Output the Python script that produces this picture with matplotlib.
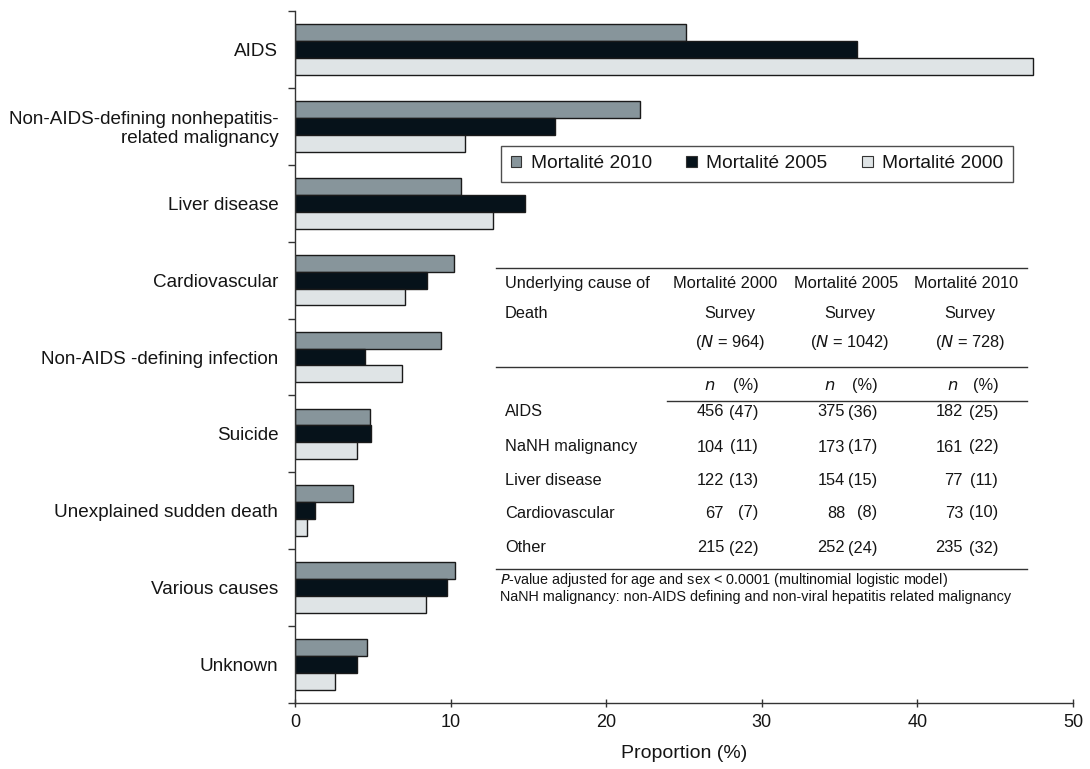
import numpy as np
import matplotlib.pyplot as plt
from matplotlib.patches import Patch

plt.rcParams['font.family'] = ['Liberation Sans', 'DejaVu Sans']

categories = ['AIDS', 'Non-AIDS-defining nonhepatitis-\nrelated malignancy', 'Liver disease',
              'Cardiovascular', 'Non-AIDS -defining infection', 'Suicide',
              'Unexplained sudden death', 'Various causes', 'Unknown']
mort_2010 = [25.1, 22.2, 10.7, 10.2, 9.4, 4.8, 3.7, 10.3, 4.6]
mort_2005 = [36.1, 16.7, 14.8, 8.5, 4.5, 4.9, 1.3, 9.8, 4.0]
mort_2000 = [47.4, 10.9, 12.7, 7.1, 6.9, 4.0, 0.8, 8.4, 2.6]
series_labels = ['Mortalité 2010', 'Mortalité 2005', 'Mortalité 2000']
series_colors = ['#87959b', '#06121a', '#dfe4e6']

# inset table
table_causes = ['AIDS', 'NaNH malignancy', 'Liver disease', 'Cardiovascular', 'Other']
survey_names = ['Mortalité 2000', 'Mortalité 2005', 'Mortalité 2010']
survey_n = [964, 1042, 728]
counts_2000 = [456, 104, 122, 67, 215]
pct_2000 = [47, 11, 13, 7, 22]
counts_2005 = [375, 173, 154, 88, 252]
pct_2005 = [36, 17, 15, 8, 24]
counts_2010 = [182, 161, 77, 73, 235]
pct_2010 = [25, 22, 11, 10, 32]

W, H = 1090, 769
fig = plt.figure(figsize=(W / 100, H / 100), dpi=100)
ax = fig.add_axes([295 / W, 1 - 703 / H, (1073 - 295) / W, (703 - 11) / H])

tc = '#151515'
y = np.arange(len(categories))
bh = 0.22
for off, vals, col, lab in zip([-bh, 0, bh], [mort_2010, mort_2005, mort_2000], series_colors, series_labels):
    ax.barh(y + off, vals, height=bh, color=col, edgecolor='#1a1a1a', linewidth=1.0, label=lab)

ax.set_ylim(len(categories) - 0.5, -0.5)
ax.set_xlim(0, 50)
ax.set_xticks(range(0, 51, 10))
ax.set_yticks(np.arange(-0.5, len(categories)), labels=[])
ax.set_yticks(y, labels=categories, minor=True)
ax.tick_params(axis='y', which='major', direction='out', length=5, width=1, color='#333333')
ax.tick_params(axis='y', which='minor', length=0, pad=12, labelsize=13.6, labelcolor=tc)
ax.tick_params(axis='x', direction='inout', length=6, width=1, color='#333333', labelsize=13, labelcolor=tc, pad=5)
for s in ['top', 'right']:
    ax.spines[s].set_visible(False)
for s in ['left', 'bottom']:
    ax.spines[s].set_color('#333333')
    ax.spines[s].set_linewidth(1)
for lbl in ax.get_yticklabels(minor=True):
    lbl.set_linespacing(1.15)
ax.set_xlabel('Proportion (%)', fontsize=14, color=tc, labelpad=10)

handles = [Patch(facecolor=c, edgecolor='#333333', linewidth=0.8) for c in series_colors]
leg = ax.legend(handles, series_labels, loc='center', bbox_to_anchor=(757 / W, 1 - 164 / H),
                bbox_transform=fig.transFigure, ncol=3, fontsize=13.8, frameon=True, fancybox=False,
                handlelength=0.55, handleheight=0.55, handletextpad=0.5, columnspacing=1.8,
                borderpad=0.5, borderaxespad=0)
leg._legend_box.align = 'center'
leg.get_frame().set_edgecolor('#222222')
leg.get_frame().set_linewidth(1.0)
for t in leg.get_texts():
    t.set_color(tc)


def fx(px):
    return px / W


def fy(py):
    return 1 - py / H


fs = 11.8
# table rules
for py, x0, x1 in [(268, 496, 1027), (367, 496, 1027), (401, 667, 1027), (569, 496, 1027)]:
    fig.add_artist(plt.Line2D([fx(x0), fx(x1)], [fy(py), fy(py)], color='#333333', lw=1.0))

fig.text(fx(505), fy(284), 'Underlying cause of', fontsize=fs, color=tc, va='center')
fig.text(fx(505), fy(313), 'Death', fontsize=fs, color=tc, va='center')
head_x = [725, 846, 966]
survey_x = [730, 850, 970]
n_x = [710, 830, 953]
pc_x = [746, 865, 986]
for k in range(3):
    fig.text(fx(head_x[k]), fy(284), survey_names[k], fontsize=fs, color=tc, ha='center', va='center')
    fig.text(fx(survey_x[k]), fy(313), 'Survey', fontsize=fs, color=tc, ha='center', va='center')
    fig.text(fx(survey_x[k]), fy(342), '($N$ = %d)' % survey_n[k], fontsize=fs, color=tc,
             ha='center', va='center')
    fig.text(fx(n_x[k]), fy(385), '$n$', fontsize=fs, color=tc, ha='center', va='center')
    fig.text(fx(pc_x[k]), fy(385), '(%)', fontsize=fs, color=tc, ha='center', va='center')

row_y = [412, 447, 480, 513, 548]
count_x = [724, 845, 963]
pct_x = [758, 877, 998]
all_counts = [counts_2000, counts_2005, counts_2010]
all_pcts = [pct_2000, pct_2005, pct_2010]
for i, cause in enumerate(table_causes):
    fig.text(fx(505), fy(row_y[i]), cause, fontsize=fs, color=tc, va='center')
    for j in range(3):
        fig.text(fx(count_x[j]), fy(row_y[i]), str(all_counts[j][i]), fontsize=fs, color=tc,
                 ha='right', va='center')
        fig.text(fx(pct_x[j]), fy(row_y[i]), '(%d)' % all_pcts[j][i], fontsize=fs, color=tc,
                 ha='right', va='center')

fig.text(fx(500), fy(580), '$P$-value adjusted for age and sex < 0.0001 (multinomial logistic model)',
         fontsize=10.4, color=tc, va='center')
fig.text(fx(500), fy(597), 'NaNH malignancy: non-AIDS defining and non-viral hepatitis related malignancy',
         fontsize=10.4, color=tc, va='center')

fig.savefig('out.png', dpi=100)
